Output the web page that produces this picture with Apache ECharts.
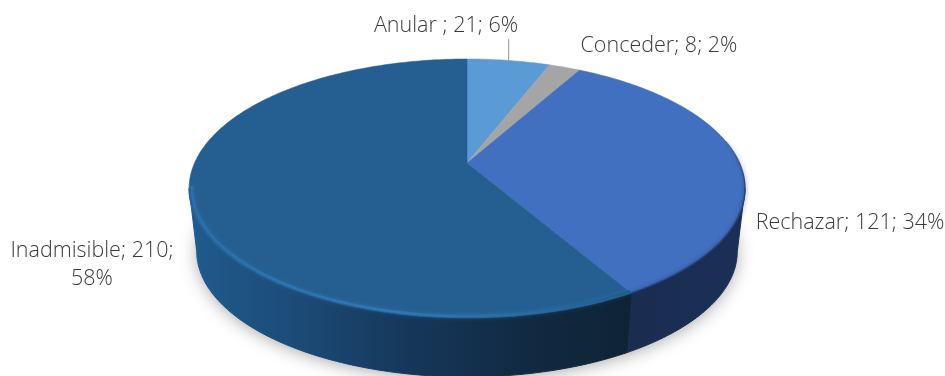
<!DOCTYPE html>
<html><head><meta charset="utf-8">
<style>html,body{margin:0;padding:0;background:#fff;overflow:hidden}#c{width:945px;height:376px}</style>
<script src="https://cdn.jsdelivr.net/npm/echarts@6/dist/echarts.min.js"></script>
</head><body><div id="c"></div>
<script>
const categories = ['Anular ', 'Conceder', 'Rechazar', 'Inadmisible'];
const values = [21, 8, 121, 210];
const topColors = ['#5b9bd5', '#a5a5a5', '#4270c0', '#255e91'];

const total = values.reduce((a, b) => a + b, 0);
let running = 0;
const rows = values.map((v, i) => { const s = running; running += v; return [1, s, running, v]; });

const CX = 467, CY = 163, UNIT = 100;
const K = 0.197;
const topDisk = {a: 272.5, b: 124.5, cy: CY};
const lowDisk = {a: 265, b: 120.8, cy: 226.5};
const frontFrom = (180 - (90 - Math.asin(K) * 180 / Math.PI)) / 360 * total;
const frontTo = (180 + (90 - Math.asin(K) * 180 / Math.PI)) / 360 * total;

function project(p, d, s) {
  const X = (p[0] - CX) / UNIT * (s || 1), Y = -(p[1] - CY) / UNIT * (s || 1);
  const w = 1 + K * Y;
  return [CX + d.a * X / w, d.cy - d.b * Y / w];
}
function arc(api, from, to, d, s) {
  const n = Math.max(2, Math.ceil(Math.abs(to - from) / total * 360));
  const out = [];
  for (let i = 0; i <= n; i++) {
    out.push(project(api.coord([1, from + (to - from) * i / n]), d, s));
  }
  return out;
}
function hGrad(x0, x1, stops) {
  return {type: 'linear', x: x0, y: 0, x2: x1, y2: 0, global: true,
    colorStops: stops.map(s => ({offset: s[0], color: s[1]}))};
}
const wallFill = [
  null, null,
  hGrad(620, 740, [[0, '#1a2c50'], [1, '#1b2f55']]),
  hGrad(190, 630, [[0, '#1f5b8e'], [0.25, '#1c4a76'], [0.5, '#16375a'], [0.75, '#112a43'], [1, '#0f2335']])
];
const rimStyle = [
  null, null,
  {from: 0.42, to: 1, scale: 1, width: 1.4, blur: 4, glow: 'rgba(26,46,90,0.8)',
    color: {type: 'linear', x: 0, y: 120, x2: 0, y2: 190, global: true,
      colorStops: [{offset: 0, color: 'rgba(40,70,130,0)'}, {offset: 1, color: '#24437c'}]}},
  {from: 0, to: 0.52, scale: 0.99, width: 2.5, blur: 4, glow: 'rgba(46,118,180,0.75)',
    color: hGrad(190, 630, [[0, '#2a6fab'], [0.45, '#2f78b5'], [0.8, '#266b9e'], [1, '#1f5d88']])}
];
const labelPlace = [
  {x: 446, y: 26},
  {x: 659, y: 46},
  {x: 850, y: 223},
  {x: 92, y: 265}
];

function labelText(i) {
  const t = categories[i] + '; ' + values[i] + '; ' + Math.round(values[i] / total * 100) + '%';
  return i === 3 ? t.replace(/; (\d+%)$/, ';\n$1') : t;
}

function renderItem(params, api) {
  const i = params.dataIndex, s = api.value(1), e = api.value(2);
  const children = [];
  if (i === 0) {
    children.push({
      type: 'polygon', z2: 0,
      shape: {points: arc(api, 0, total, lowDisk, 0.995)},
      style: {fill: '#ffffff', shadowBlur: 18, shadowColor: 'rgba(0,0,0,0.38)', shadowOffsetX: 0, shadowOffsetY: 2}
    });
  }
  const wf = Math.max(s, frontFrom), wt = Math.min(e, frontTo);
  if (wt > wf && wallFill[i]) {
    const upper = arc(api, wf, wt, topDisk), lower = arc(api, wf, wt, lowDisk).reverse();
    children.push({type: 'polygon', z2: 1, shape: {points: upper.concat(lower)},
      style: {fill: wallFill[i], stroke: wallFill[i], lineWidth: 1}});
  }
  const pts = [project(api.coord([0, s]), topDisk)].concat(arc(api, s, e, topDisk));
  children.push({type: 'polygon', z2: 2, shape: {points: pts},
    style: {fill: topColors[i], stroke: topColors[i], lineWidth: 0.5}});
  const r = rimStyle[i];
  if (r) {
    const from = s + (e - s) * r.from, to = s + (e - s) * r.to;
    children.push({type: 'polyline', z2: 3, shape: {points: arc(api, from, to, topDisk, r.scale)},
      style: {fill: null, stroke: r.color, lineWidth: r.width, lineCap: 'round', shadowBlur: r.blur, shadowColor: r.glow}});
  }
  const lp = labelPlace[i];
  children.push({type: 'text', z2: 5, x: lp.x, y: lp.y,
    style: {text: labelText(i), x: 0, y: 0, align: 'center', verticalAlign: 'middle',
      fill: '#3a3a3a', font: '300 21.5px "Open Sans"', lineHeight: 28}});
  if (i === 0) {
    const mid = project(api.coord([1, (s + e) / 2]), topDisk);
    children.push({type: 'line', z2: 5, shape: {x1: mid[0], y1: 39, x2: mid[0], y2: mid[1]},
      style: {stroke: '#a6a6a6', lineWidth: 1.2}});
  }
  return {type: 'group', children};
}

const chart = echarts.init(document.getElementById('c'), null, {renderer: 'canvas'});
chart.setOption({
  animation: false,
  backgroundColor: '#ffffff',
  polar: {center: [CX, CY], radius: UNIT},
  angleAxis: {type: 'value', min: 0, max: total, startAngle: 90, clockwise: true, show: false},
  radiusAxis: {type: 'value', min: 0, max: 1, show: false},
  series: [{
    type: 'custom', coordinateSystem: 'polar', clip: false, silent: true,
    encode: {radius: 0, angle: [1, 2]},
    data: rows, renderItem
  }]
});
</script></body></html>
